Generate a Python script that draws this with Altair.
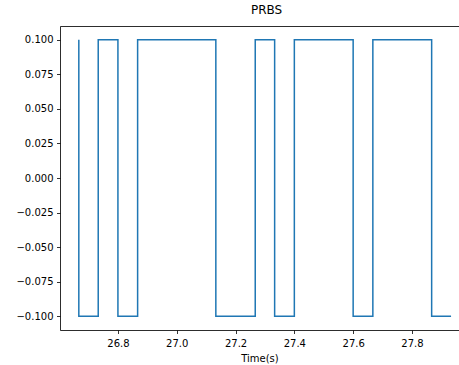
import altair as alt
import pandas as pd

times = [26.667, 26.733, 26.800, 26.867, 26.933, 27.000, 27.067, 27.133, 27.200, 27.267,
         27.333, 27.400, 27.467, 27.533, 27.600, 27.667, 27.733, 27.800, 27.867, 27.933]
values = [0.1, -0.1, 0.1, -0.1, 0.1, 0.1, 0.1, 0.1, -0.1, -0.1,
          0.1, -0.1, 0.1, 0.1, 0.1, -0.1, 0.1, 0.1, 0.1, -0.1]
x_ticks = [26.8, 27.0, 27.2, 27.4, 27.6, 27.8]
y_ticks = [-0.1, -0.075, -0.05, -0.025, 0.0, 0.025, 0.05, 0.075, 0.1]

df = pd.DataFrame({"t": times, "v": values})

FONT = "DejaVu Sans"
xscale = alt.Scale(domain=[26.603, 27.96], nice=False, zero=False)
yscale = alt.Scale(domain=[-0.11, 0.11], nice=False, zero=False)

axis_common = dict(
    domainColor="black", domainWidth=0.8, tickColor="black", tickWidth=0.8,
    tickSize=3.5, labelFont=FONT, labelFontSize=10,
    labelColor="black", grid=False, titleFont=FONT, titleFontSize=10,
    titleFontWeight="normal", titleColor="black",
)

line = alt.Chart(df).mark_line(interpolate="step-before", color="#1f77b4", strokeWidth=1.5, clip=True).encode(
    x=alt.X("t:Q", scale=xscale,
            axis=alt.Axis(values=x_ticks, format=".1f", title="Time(s)", titlePadding=4.5,
                          labelPadding=5, **axis_common)),
    y=alt.Y("v:Q", scale=yscale,
            axis=alt.Axis(values=y_ticks, format=".3f", title=None, labelPadding=3.5, **axis_common)),
)

top = alt.Chart(df).mark_point(opacity=0).encode(
    x=alt.X("t:Q", scale=xscale,
            axis=alt.Axis(orient="top", labels=False, ticks=False, title=None, grid=False,
                          domainColor="black", domainWidth=0.8)),
    y=alt.value(0),
)

chart = alt.layer(line, top).resolve_axis(x="independent").properties(
    width=399, height=304,
    title=alt.TitleParams("PRBS", font=FONT, fontSize=12, fontWeight="normal", color="black",
                          anchor="middle", dx=7, offset=6),
    padding={"left": 60, "top": 26, "right": 0, "bottom": 35},
    autosize=alt.AutoSizeParams(type="none"),
).configure_view(stroke=None).configure(background="white")

chart.save("out.html", embed_options={"renderer": "svg", "actions": False})
